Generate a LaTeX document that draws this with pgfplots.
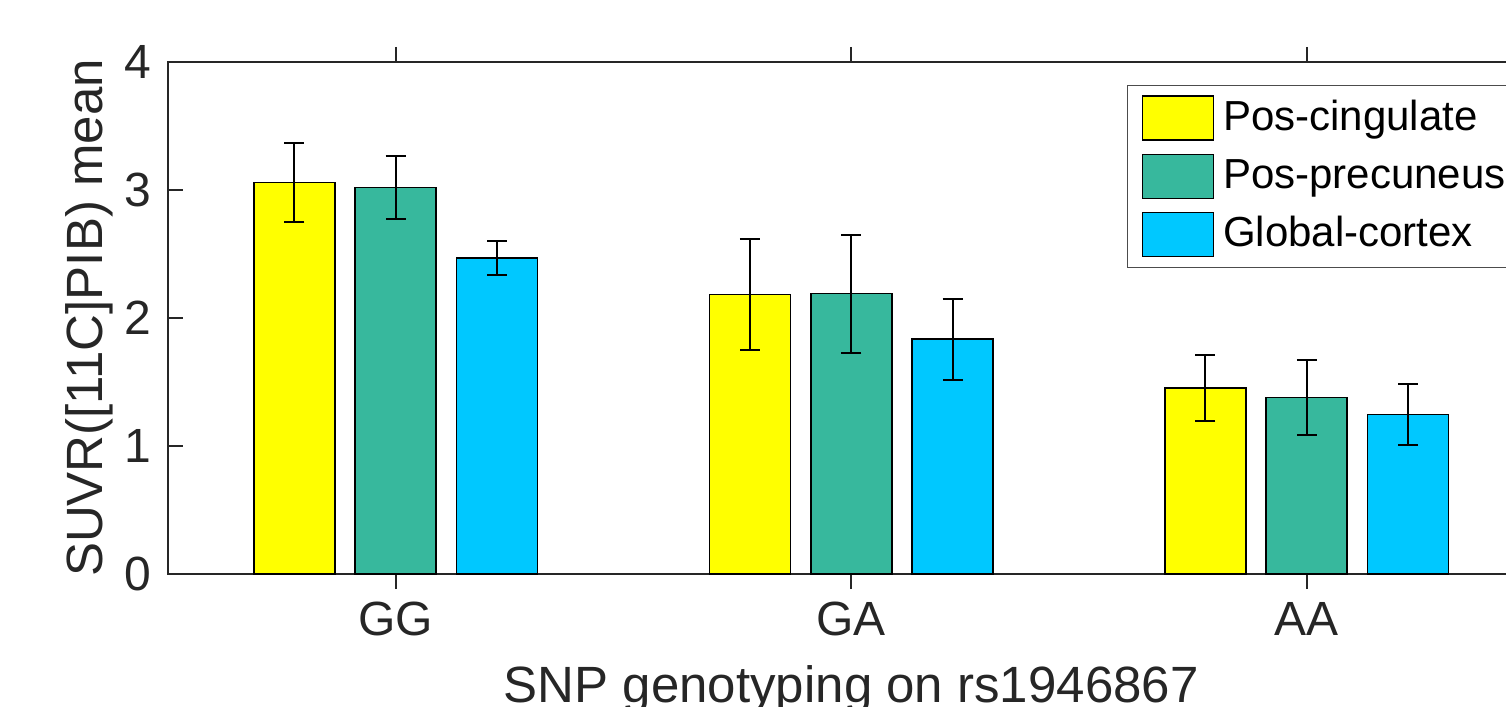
\documentclass[border=0pt]{standalone}
\usepackage{fontspec}
\setmainfont{Liberation Sans}
\usepackage{pgfplots}
\pgfplotsset{compat=1.18}
\definecolor{cyel}{RGB}{255,255,0}
\definecolor{cgrn}{RGB}{55,184,157}
\definecolor{cblu}{RGB}{0,200,255}
\definecolor{axgray}{RGB}{38,38,38}
\pgfplotsset{mylegend/.style={legend image code/.code={\draw[##1] (0pt,-3.5pt) rectangle (35.5pt,18.5pt);}}}
\newcommand{\lent}[1]{\raisebox{0.5pt}[0pt][0pt]{#1}}

\begin{document}
\begin{tikzpicture}
% the reference is cropped on the right and at the bottom
\path[use as bounding box, clip] (-84pt,-66.5pt) rectangle (669pt,287pt);
\begin{axis}[
    scale only axis, width=683.25pt, height=256pt,
    xmin=0.5, xmax=3.5, ymin=0, ymax=4,
    xtick={1,2,3}, xticklabels={GG,GA,AA},
    ytick={0,1,2,3,4},
    tick align=inside, major tick length=7.5pt,
    axis line style={axgray, line width=1.1pt},
    every tick/.style={axgray, line width=1.1pt},
    /pgf/number format/assume math mode=true,
    ticklabel style={font=\fontsize{24}{28}\selectfont, text=axgray},
    xticklabel style={anchor=base, inner sep=0pt, yshift=-23pt},
    yticklabel style={anchor=east, inner sep=0pt, xshift=-8pt},
    xlabel={SNP genotyping on rs1946867},
    ylabel={SUVR([11C]PIB) mean},
    label style={font=\fontsize{25.5}{30}\selectfont, text=axgray},
    xlabel style={at={(axis description cs:0.5,-0.251)}, anchor=base, inner sep=0pt},
    ylabel style={at={(axis description cs:-0.0483,0.5)}, anchor=base, inner sep=0pt},
    ybar, bar width=0.1778, bar shift=0pt,
    every axis plot post/.append style={mylegend},
    legend cell align=left,
    legend style={at={(axis description cs:0.7018,0.9551)}, anchor=north west,
        draw=black!70, line width=0.5pt, inner xsep=7pt, inner ysep=5pt,
        row sep=6.25pt, column sep=4.5pt,
        font=\fontsize{21}{25}\selectfont, nodes={inner sep=0pt}},
]
\addplot[fill=cyel, draw=black, line width=0.8pt,
    error bars/.cd, y dir=both, y explicit,
    error bar style={black, line width=1pt},
    error mark options={black, line width=1pt, mark size=5pt, rotate=90}]
coordinates {
    (0.7777,3.06) +- (0,0.31)
    (1.7777,2.185) +- (0,0.433)
    (2.7777,1.455) +- (0,0.256)
};
\addplot[fill=cgrn, draw=black, line width=0.8pt,
    error bars/.cd, y dir=both, y explicit,
    error bar style={black, line width=1pt},
    error mark options={black, line width=1pt, mark size=5pt, rotate=90}]
coordinates {
    (1,3.02) +- (0,0.247)
    (2,2.19) +- (0,0.46)
    (3,1.378) +- (0,0.29)
};
\addplot[fill=cblu, draw=black, line width=0.8pt,
    error bars/.cd, y dir=both, y explicit,
    error bar style={black, line width=1pt},
    error mark options={black, line width=1pt, mark size=5pt, rotate=90}]
coordinates {
    (1.2223,2.468) +- (0,0.133)
    (2.2223,1.834) +- (0,0.316)
    (3.2223,1.247) +- (0,0.238)
};
\legend{\lent{Pos-cingulate}, \lent{Pos-precuneus}, \lent{Global-cortex}}
\end{axis}
\end{tikzpicture}
\end{document}
